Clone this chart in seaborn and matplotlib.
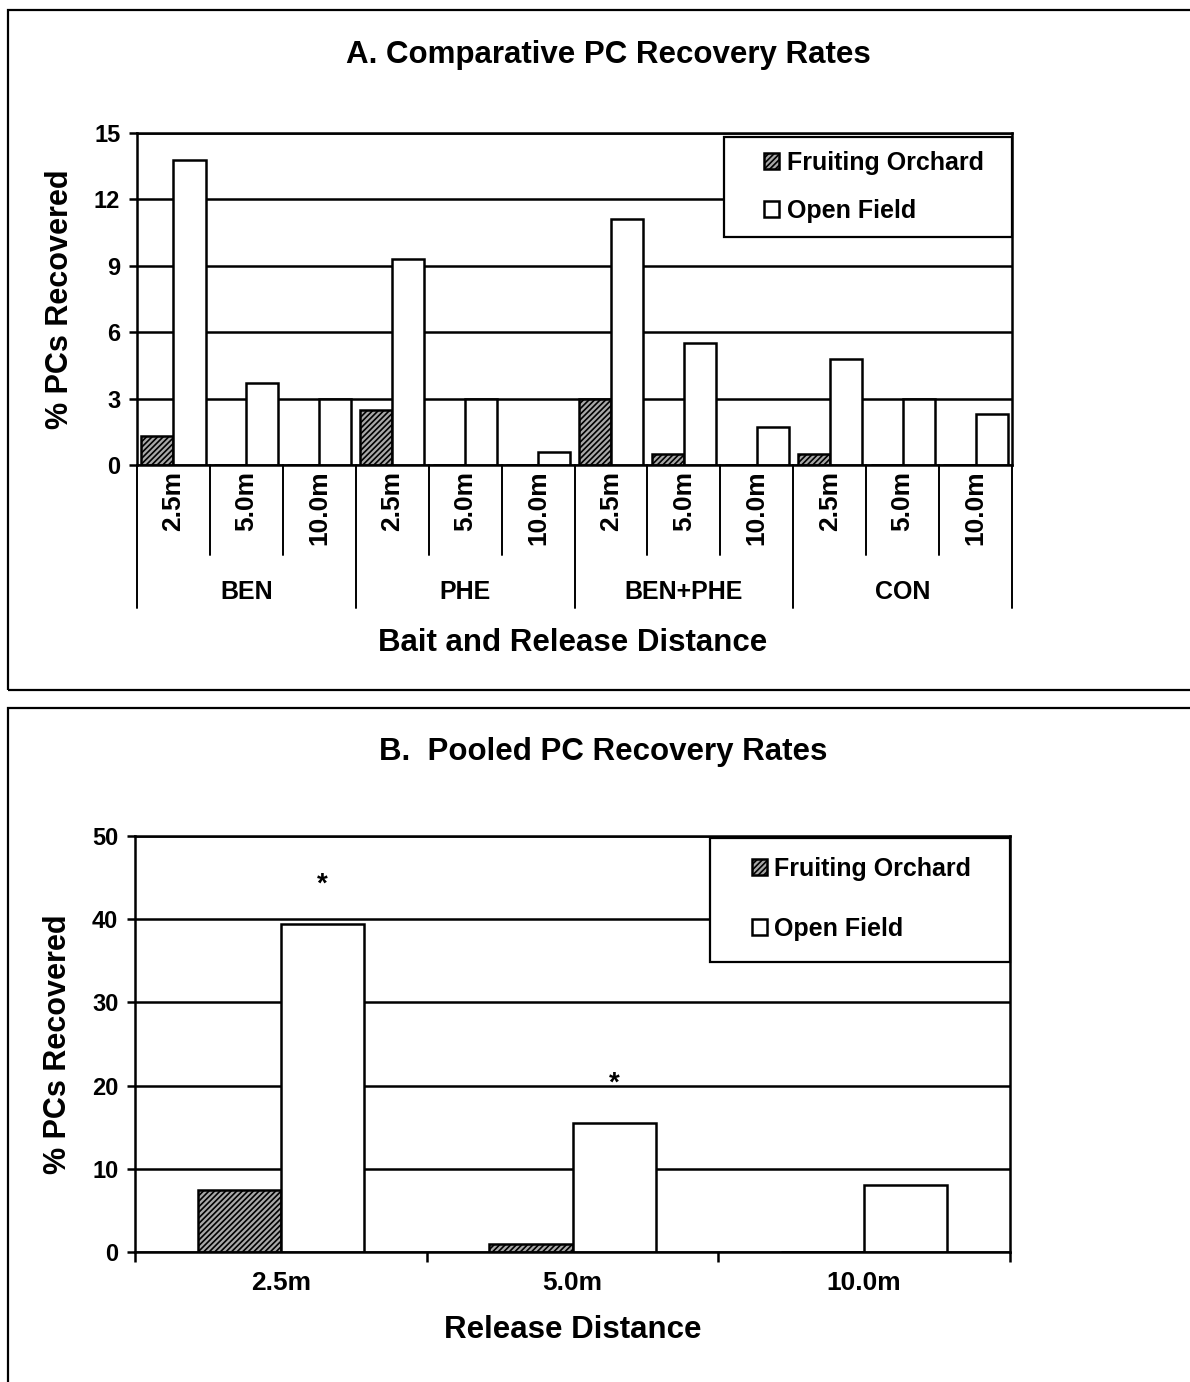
import numpy as np
import pandas as pd
import matplotlib
matplotlib.use('Agg')
import matplotlib.pyplot as plt
import matplotlib.transforms as mtransforms
from matplotlib.patches import Rectangle
import seaborn as sns

# datos
cebos = ['BEN', 'PHE', 'BEN+PHE', 'CON']
distancias = ['2.5m', '5.0m', '10.0m']
huerto_a = [1.3, 0.0, 0.0, 2.5, 0.0, 0.0, 3.0, 0.5, 0.0, 0.5, 0.0, 0.0]
campo_a = [13.8, 3.7, 3.0, 9.3, 3.0, 0.6, 11.1, 5.5, 1.7, 4.8, 3.0, 2.3]
huerto_b = [7.4, 1.0, 0.0]
campo_b = [39.4, 15.5, 8.0]
significativo_b = [True, True, False]
sitios = ['Fruiting Orchard', 'Open Field']

sns.set_style('white')
plt.rcParams['font.family'] = ['Liberation Sans', 'DejaVu Sans']
plt.rcParams['font.weight'] = 'bold'
plt.rcParams['hatch.linewidth'] = 1.2
for k in ['text.color', 'axes.labelcolor', 'xtick.color', 'ytick.color']:
    plt.rcParams[k] = 'black'

W, H = 1190, 1382
fig = plt.figure(figsize=(W / 100, H / 100), dpi=100)

def px_axes(x0, y0, x1, y1):
    return fig.add_axes([x0 / W, 1 - y1 / H, (x1 - x0) / W, (y1 - y0) / H])

# marcos de los paneles
fig.add_artist(Rectangle((8 / W, 1 - 690 / H), 1.2, 680 / H, transform=fig.transFigure,
                         fill=False, lw=1.6, edgecolor='black'))
fig.add_artist(Rectangle((8 / W, -0.05), 1.2, 0.05 + 1 - 708 / H, transform=fig.transFigure,
                         fill=False, lw=1.6, edgecolor='black'))

lw = 1.8


def estilo_barras(ax):
    for p in ax.containers[0].patches:
        p.set_facecolor('#a8a8a8')
        p.set_hatch('//////')
        p.set_edgecolor('black')
    for p in ax.containers[1].patches:
        p.set_facecolor('white')
        p.set_edgecolor('black')
    for s in ax.spines.values():
        s.set_visible(True)
        s.set_linewidth(lw)
        s.set_color('black')
    ax.yaxis.grid(True, color='black', linewidth=lw)
    ax.set_axisbelow(True)
    ax.tick_params(axis='y', length=6, width=lw, direction='out', left=True,
                   labelsize=17, pad=6)
    for t in ax.get_yticklabels():
        t.set_fontweight('bold')


def leyenda(ax, caja, centro, espacio):
    # caja de la leyenda con bordes rectos
    ax.add_patch(Rectangle((caja[0], caja[1]), caja[2], caja[3], transform=ax.transAxes,
                           facecolor='white', edgecolor='black', lw=1.6,
                           zorder=5, clip_on=False))
    leg = ax.legend(ax.containers, sitios, loc='center', bbox_to_anchor=centro,
                    borderaxespad=0, fontsize=18, frameon=False,
                    handlelength=0.6, handleheight=0.6, handletextpad=0.3,
                    labelspacing=espacio, borderpad=0.2)
    leg.set_zorder(6)
    for t in leg.get_texts():
        t.set_fontweight('bold')
    return leg


# ---------------- Panel A ----------------
etiquetas = [f'{c} {d}' for c in cebos for d in distancias]
df_a = pd.DataFrame({
    'cat': etiquetas * 2,
    'sitio': [sitios[0]] * 12 + [sitios[1]] * 12,
    'valor': huerto_a + campo_a,
})
ax1 = px_axes(137, 133, 1012, 465)
sns.barplot(data=df_a, x='cat', y='valor', hue='sitio', hue_order=sitios,
            order=etiquetas, width=0.88, palette=['#a8a8a8', 'white'],
            edgecolor='black', linewidth=lw, ax=ax1, legend=False)
estilo_barras(ax1)
ax1.set_xlim(-0.5, 11.5)
ax1.set_ylim(0, 15)
ax1.set_yticks([0, 3, 6, 9, 12, 15])
ax1.set_xticks(range(12))
ax1.set_xticklabels(distancias * 4, rotation=90, fontsize=19, fontweight='bold')
ax1.tick_params(axis='x', length=0, pad=4)
ax1.set_xlabel('')
ax1.set_ylabel('% PCs Recovered', fontsize=22, fontweight='bold', labelpad=14)

tr = mtransforms.blended_transform_factory(ax1.transData, ax1.transAxes)
for k in range(11):
    if (k + 1) % 3 == 0:
        continue
    ax1.plot([k + 0.5, k + 0.5], [0, -0.271], transform=tr, color='black',
             lw=1.4, clip_on=False)
for x in [-0.5, 2.5, 5.5, 8.5, 11.5]:
    ax1.plot([x, x], [0, -0.431], transform=tr, color='black', lw=1.4, clip_on=False)
for i, c in enumerate(cebos):
    ax1.text(3 * i + 1, -0.3825, c, transform=tr, ha='center', va='center',
             fontsize=18, fontweight='bold')

leyenda(ax1, (0.671, 0.687, 0.329, 0.301), (0.842, 0.837), 0.95)

fig.text(608 / W, 1 - 55 / H, 'A. Comparative PC Recovery Rates', ha='center',
         va='center', fontsize=22.5, fontweight='bold')
fig.text(573 / W, 1 - 643 / H, 'Bait and Release Distance', ha='center',
         va='center', fontsize=22.5, fontweight='bold')

# ---------------- Panel B ----------------
df_b = pd.DataFrame({
    'dist': distancias * 2,
    'sitio': [sitios[0]] * 3 + [sitios[1]] * 3,
    'valor': huerto_b + campo_b,
})
ax2 = px_axes(135, 836, 1010, 1252)
sns.barplot(data=df_b, x='dist', y='valor', hue='sitio', hue_order=sitios,
            order=distancias, width=0.57, palette=['#a8a8a8', 'white'],
            edgecolor='black', linewidth=lw, ax=ax2, legend=False)
estilo_barras(ax2)
ax2.set_xlim(-0.5, 2.5)
ax2.set_ylim(0, 50)
ax2.set_yticks([0, 10, 20, 30, 40, 50])
ax2.set_xticks(range(3))
ax2.set_xticklabels(distancias, fontsize=19, fontweight='bold')
ax2.set_xticks([-0.5, 0.5, 1.5, 2.5], minor=True)
ax2.tick_params(axis='x', which='major', length=0, pad=14)
ax2.tick_params(axis='x', which='minor', length=7, width=lw, direction='out', bottom=True)
ax2.set_xlabel('Release Distance', fontsize=22.5, fontweight='bold', labelpad=14)
ax2.set_ylabel('% PCs Recovered', fontsize=22, fontweight='bold', labelpad=14)

for p, sig in zip(ax2.containers[1].patches, significativo_b):
    if sig:
        ax2.text(p.get_x() + p.get_width() / 2, p.get_height() + 4.7, '*',
                 ha='center', va='center', fontsize=20, fontweight='bold')

leyenda(ax2, (0.657, 0.697, 0.343, 0.298), (0.830, 0.849), 1.45)

fig.text(603 / W, 1 - 752 / H, 'B.  Pooled PC Recovery Rates', ha='center',
         va='center', fontsize=22.5, fontweight='bold')

fig.savefig('out.png', dpi=100)
